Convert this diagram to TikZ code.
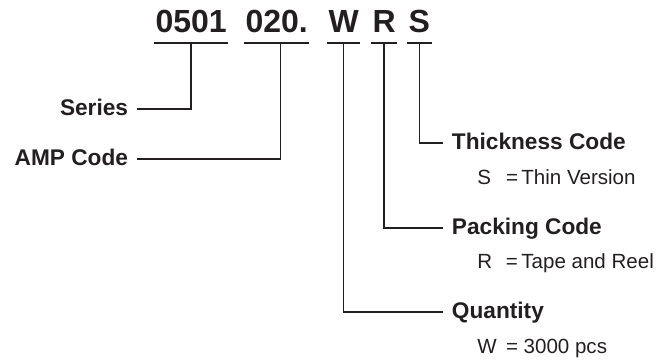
\documentclass[tikz,border=0pt]{standalone}
\usepackage{fontspec}
\setmainfont{Liberation Sans}
\definecolor{ink}{RGB}{35,31,32}

\begin{document}
\begin{tikzpicture}[x=0.75pt,y=-0.75pt,color=ink,
  code/.style={font=\fontsize{24}{28}\selectfont\bfseries,inner xsep=1pt,inner ysep=0pt,anchor=base west},
  uline/.style={line width=1.9pt},
  link/.style={line width=1.1pt},
  lbl/.style={font=\fontsize{17}{20}\selectfont\bfseries,text height=10pt,text depth=0pt,inner ysep=0pt,inner xsep=6.5pt},
  val/.style={font=\fontsize{15.4}{18}\selectfont,inner sep=0pt,anchor=base west}]
  \useasboundingbox (0,0) rectangle (664,360);

  % part number
  \node[code] (p0501) at (154,33) {0501};
  \node[code] (p020) at (244,33) {020.};
  \node[code] (pW) at (327,33) {W};
  \node[code] (pR) at (371,33) {R};
  \node[code] (pS) at (407,33) {S};
  \foreach \p in {p0501,p020,pW,pR,pS}
    \draw[uline] ([yshift=-7.5pt]\p.base west) -- ([yshift=-7.5pt]\p.base east);
  \coordinate (d0501) at ([yshift=-7.5pt]p0501.base);
  \coordinate (d020) at ([xshift=3pt,yshift=-7.5pt]p020.base);
  \coordinate (dW) at ([yshift=-7.5pt]pW.base);
  \coordinate (dR) at ([yshift=-7.5pt]pR.base);
  \coordinate (dS) at ([yshift=-7.5pt]pS.base);

  % left labels
  \node[lbl,anchor=east] (series) at (137,109) {Series};
  \node[lbl,anchor=east] (amp) at (137,159) {AMP Code};

  % right labels
  \node[lbl,anchor=west] (thick) at (443,143) {Thickness Code};
  \node[lbl,anchor=west] (pack) at (443,228) {Packing Code};
  \node[lbl,anchor=west] (qty) at (443,312) {Quantity};

  \node[val] (sval) at (477,184) {\makebox[1.4em][l]{S}=\,Thin Version};
  \node[val] (rval) at (477,268) {\makebox[1.4em][l]{R}=\,Tape and Reel};
  \node[val] (wval) at (477,353) {\makebox[1.4em][l]{W}= 3000 pcs};

  \draw[link] (d0501) |- (series.east);
  \draw[link] (d020) |- (amp.east);
  \draw[link] (dS) |- (thick.west);
  \draw[link] (dR) |- (pack.west);
  \draw[link] (dW) |- (qty.west);
\end{tikzpicture}
\end{document}
